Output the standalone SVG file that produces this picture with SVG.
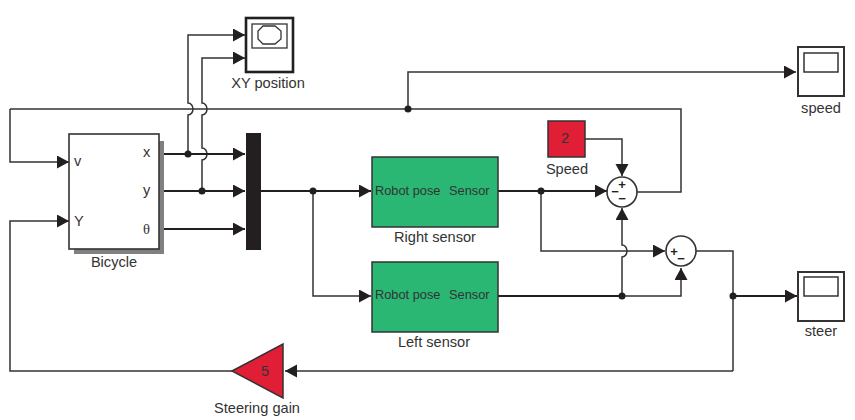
<svg xmlns="http://www.w3.org/2000/svg" width="855" height="420" viewBox="0 0 855 420">
<defs>
<marker id="a" markerUnits="userSpaceOnUse" markerWidth="13" markerHeight="14" refX="12" refY="6.5" orient="auto"><path d="M0,0L12,6.5L0,13Z" fill="#231f20"/></marker>
</defs>
<style>
text{font-family:"Liberation Sans",Arial,sans-serif;fill:#333;font-size:14.6px}
.m{text-anchor:middle}
.w{fill:none;stroke:#333;stroke-width:1.5}
.t{fill:none;stroke:#231f20;stroke-width:2.2}
.ar{marker-end:url(#a)}
.d{fill:#231f20}
.b{fill:#fff;stroke:#333;stroke-width:1.6}
.s{fill:#fff;stroke:#333;stroke-width:2}
.g{fill:#2ab673;stroke:#333;stroke-width:1.5}
.r{fill:#e01f36;stroke:#333;stroke-width:1.5}
.sign{font-weight:bold;font-size:13px;fill:#231f20}
.p{font-size:12.8px}
</style>
<rect width="855" height="420" fill="#fff"/>
<g id="connectors">
<path class="w ar" d="M188,154V115a5,6 0 0 0 0,-12V35H245"/>
<path class="w ar" d="M202,191V160a5,6 0 0 0 0,-12V115a5,6 0 0 0 0,-12V58H245"/>
<path class="w ar" d="M408,109V72H796"/>
<path class="w" d="M637,192H681V109H10"/>
<path class="w ar" d="M10,109V162H69"/>
<path class="w ar" d="M232,371H10V221H69"/>
<path class="t ar" d="M159,154H245"/>
<path class="t ar" d="M159,191H245"/>
<path class="t ar" d="M159,229H245"/>
<path class="t ar" d="M261,191H371"/>
<path class="w ar" d="M313,191V296H371"/>
<path class="t ar" d="M498,191H607"/>
<path class="w ar" d="M541,191V251H665"/>
<path class="t" d="M498,296H622"/>
<path class="w ar" d="M622,296V257a5,6 0 0 0 0,-12V208"/>
<path class="w ar" d="M622,296H681V268"/>
<path class="w ar" d="M585,139H622V176"/>
<path class="w" d="M696,251H733V371"/>
<path class="t ar" d="M733,296H797"/>
<path class="w ar" d="M733,371H285"/>
<circle class="d" cx="188" cy="154" r="3.5"/>
<circle class="d" cx="202" cy="191" r="3.5"/>
<circle class="d" cx="313" cy="191" r="3.5"/>
<circle class="d" cx="408" cy="109" r="3.5"/>
<circle class="d" cx="541" cy="191" r="3.5"/>
<circle class="d" cx="622" cy="296" r="3.5"/>
<circle class="d" cx="733" cy="296" r="3.5"/>
</g>
<g id="bicycle">
<rect x="74" y="141" width="90" height="113" fill="#808080"/>
<rect class="b" x="69" y="134" width="90" height="115"/>
<text x="74" y="166">v</text><text x="74" y="226">Y</text>
<text x="143" y="157">x</text><text x="143" y="195">y</text>
<text x="143" y="234" style="font-family:'Liberation Serif',serif">θ</text>
<text class="m" x="114" y="267">Bicycle</text>
</g>
<g id="xy-position">
<rect x="246" y="18" width="47" height="54" fill="#fff" stroke="#231f20" stroke-width="2.6"/>
<rect x="252" y="24" width="35" height="24" fill="#fff" stroke="#333" stroke-width="1.3"/>
<path d="M263,26H275L281,31V39L275,44H263L258,39V31Z" fill="#fff" stroke="#333" stroke-width="1.3"/>
<text class="m" x="268" y="88">XY position</text>
</g>
<g id="mux"><rect x="246" y="133" width="15" height="117" fill="#231f20"/></g>
<g id="right-sensor">
<rect class="g" x="372" y="157" width="126" height="70"/>
<text class="p" x="375" y="195">Robot pose</text><text class="p" x="449" y="195">Sensor</text>
<text class="m" x="435" y="242">Right sensor</text>
</g>
<g id="left-sensor">
<rect class="g" x="372" y="262" width="126" height="70"/>
<text class="p" x="375" y="299">Robot pose</text><text class="p" x="449" y="299">Sensor</text>
<text class="m" x="434" y="347">Left sensor</text>
</g>
<g id="speed-const">
<rect class="r" x="548" y="121" width="37" height="36"/>
<text class="m" x="565" y="143">2</text>
<text class="m" x="567" y="174">Speed</text>
</g>
<g id="sum1">
<circle class="b" cx="622" cy="192" r="15"/>
<text class="m sign" x="622" y="189">+</text><text class="m sign" x="615" y="196">−</text><text class="m sign" x="622" y="203">−</text>
</g>
<g id="sum2">
<circle class="b" cx="681" cy="251" r="15"/>
<text class="m sign" x="674" y="256">+</text><text class="m sign" x="681" y="263">−</text>
</g>
<g id="speed-scope">
<rect class="s" x="798" y="47" width="46" height="49"/>
<rect x="804" y="53" width="34" height="19" fill="#fff" stroke="#333" stroke-width="1.5"/>
<text class="m" x="821" y="113">speed</text>
</g>
<g id="steer-scope">
<rect class="s" x="798" y="272" width="46" height="49"/>
<rect x="804" y="277" width="34" height="19" fill="#fff" stroke="#333" stroke-width="1.5"/>
<text class="m" x="821" y="336">steer</text>
</g>
<g id="gain">
<path class="r" d="M232,371L283,344V398Z"/>
<text class="m" x="265" y="376">5</text>
<text class="m" x="257" y="413">Steering gain</text>
</g>
</svg>
